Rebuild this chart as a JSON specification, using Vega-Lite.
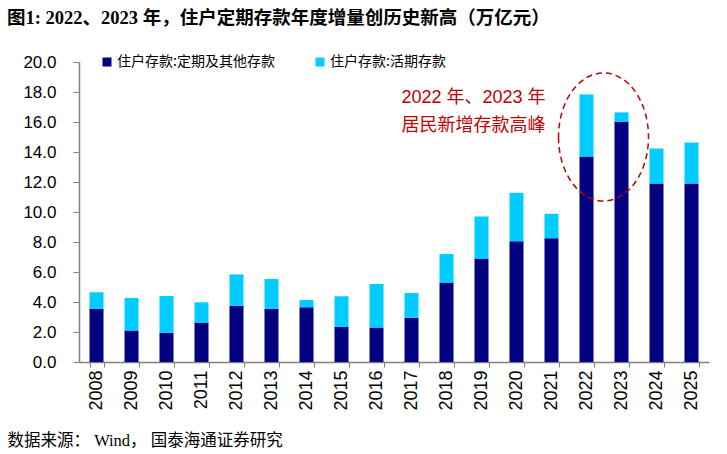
{
  "$schema": "https://vega.github.io/schema/vega-lite/v6.json",
  "width": 630,
  "height": 300,
  "autosize": {"type": "none"},
  "padding": {"left": 79, "top": 62, "right": 18, "bottom": 92},
  "background": "white",
  "title": {
    "text": "图1:  2022、2023 年，住户定期存款年度增量创历史新高（万亿元）",
    "anchor": "start",
    "frame": "group",
    "dx": -72,
    "offset": 26,
    "font": "Liberation Serif, Noto Sans CJK SC",
    "fontSize": 18.5,
    "fontWeight": "bold",
    "color": "#000000"
  },
  "config": {
    "view": {"stroke": null},
    "axis": {"grid": false}
  },
  "layer": [
    {
      "data": {
        "values": [
          {"year": "2008", "type": "住户存款:定期及其他存款", "value": 3.55},
          {"year": "2008", "type": "住户存款:活期存款", "value": 1.1},
          {"year": "2009", "type": "住户存款:定期及其他存款", "value": 2.1},
          {"year": "2009", "type": "住户存款:活期存款", "value": 2.17},
          {"year": "2010", "type": "住户存款:定期及其他存款", "value": 1.95},
          {"year": "2010", "type": "住户存款:活期存款", "value": 2.45},
          {"year": "2011", "type": "住户存款:定期及其他存款", "value": 2.63},
          {"year": "2011", "type": "住户存款:活期存款", "value": 1.35},
          {"year": "2012", "type": "住户存款:定期及其他存款", "value": 3.75},
          {"year": "2012", "type": "住户存款:活期存款", "value": 2.09},
          {"year": "2013", "type": "住户存款:定期及其他存款", "value": 3.55},
          {"year": "2013", "type": "住户存款:活期存款", "value": 1.98},
          {"year": "2014", "type": "住户存款:定期及其他存款", "value": 3.65},
          {"year": "2014", "type": "住户存款:活期存款", "value": 0.48},
          {"year": "2015", "type": "住户存款:定期及其他存款", "value": 2.35},
          {"year": "2015", "type": "住户存款:活期存款", "value": 2.03},
          {"year": "2016", "type": "住户存款:定期及其他存款", "value": 2.3},
          {"year": "2016", "type": "住户存款:活期存款", "value": 2.9},
          {"year": "2017", "type": "住户存款:定期及其他存款", "value": 2.95},
          {"year": "2017", "type": "住户存款:活期存款", "value": 1.65},
          {"year": "2018", "type": "住户存款:定期及其他存款", "value": 5.3},
          {"year": "2018", "type": "住户存款:活期存款", "value": 1.9},
          {"year": "2019", "type": "住户存款:定期及其他存款", "value": 6.9},
          {"year": "2019", "type": "住户存款:活期存款", "value": 2.8},
          {"year": "2020", "type": "住户存款:定期及其他存款", "value": 8.05},
          {"year": "2020", "type": "住户存款:活期存款", "value": 3.23},
          {"year": "2021", "type": "住户存款:定期及其他存款", "value": 8.25},
          {"year": "2021", "type": "住户存款:活期存款", "value": 1.63},
          {"year": "2022", "type": "住户存款:定期及其他存款", "value": 13.7},
          {"year": "2022", "type": "住户存款:活期存款", "value": 4.14},
          {"year": "2023", "type": "住户存款:定期及其他存款", "value": 16.0},
          {"year": "2023", "type": "住户存款:活期存款", "value": 0.64},
          {"year": "2024", "type": "住户存款:定期及其他存款", "value": 11.9},
          {"year": "2024", "type": "住户存款:活期存款", "value": 2.33},
          {"year": "2025", "type": "住户存款:定期及其他存款", "value": 11.9},
          {"year": "2025", "type": "住户存款:活期存款", "value": 2.73}
        ]
      },
      "mark": {"type": "bar"},
      "encoding": {
        "x": {
          "field": "year",
          "type": "ordinal",
          "scale": {
            "domain": ["2008","2009","2010","2011","2012","2013","2014","2015","2016","2017","2018","2019","2020","2021","2022","2023","2024","2025"],
            "paddingInner": 0.6,
            "paddingOuter": 0.3
          },
          "axis": {
            "title": "数据来源： Wind， 国泰海通证券研究",
            "titleFont": "Liberation Serif, Noto Sans CJK SC",
            "titleFontSize": 16.5,
            "titleFontWeight": "normal",
            "titleColor": "#000000",
            "titleAnchor": null,
            "titleAlign": "left",
            "titleBaseline": "middle",
            "titleX": -72,
            "titleY": 78,
            "labelAngle": -90,
            "labelFont": "Liberation Sans",
            "labelFontSize": 18,
            "labelColor": "#000000",
            "labelPadding": 3,
            "labelOverlap": false,
            "tickBand": "extent",
            "tickSize": 5,
            "tickColor": "#808080",
            "domainColor": "#808080",
            "domainWidth": 1.5
          }
        },
        "y": {
          "field": "value",
          "type": "quantitative",
          "stack": "zero",
          "scale": {"domain": [0, 20], "nice": false},
          "axis": {
            "title": null,
            "values": [0,2,4,6,8,10,12,14,16,18,20],
            "format": ".1f",
            "labelFont": "Liberation Sans",
            "labelFontSize": 17,
            "labelColor": "#000000",
            "labelPadding": 17,
            "labelOverlap": false,
            "labelBound": false,
            "labelFlush": false,
            "tickSize": 6,
            "tickColor": "#808080",
            "domainColor": "#808080",
            "domainWidth": 1.5
          }
        },
        "color": {
          "field": "type",
          "type": "nominal",
          "scale": {
            "domain": ["住户存款:定期及其他存款", "住户存款:活期存款"],
            "range": ["#000080", "#00CCFF"]
          },
          "legend": {
            "title": null,
            "orient": "none",
            "direction": "horizontal",
            "legendX": 21,
            "legendY": -7,
            "symbolType": "square",
            "symbolSize": 81,
            "symbolStrokeWidth": 0,
            "labelFont": "Noto Sans CJK SC",
            "labelFontSize": 14,
            "labelColor": "#000000",
            "labelOffset": 3,
            "labelLimit": 0,
            "columnPadding": 38,
            "padding": 0
          }
        },
        "order": {"field": "type", "sort": "ascending"}
      }
    },
    {
      "data": {
        "values": [
          {"year": "2019", "value": 17.62, "label": "2022 年、2023 年"},
          {"year": "2019", "value": 15.75, "label": "居民新增存款高峰"}
        ]
      },
      "mark": {
        "type": "text",
        "dx": -8,
        "font": "Liberation Sans, Noto Sans CJK SC",
        "fontSize": 18,
        "color": "#C00000",
        "align": "center",
        "baseline": "middle"
      },
      "encoding": {
        "x": {"field": "year", "type": "ordinal"},
        "y": {
          "field": "value",
          "type": "quantitative",
          "axis": {
            "title": null,
            "values": [0,2,4,6,8,10,12,14,16,18,20],
            "format": ".1f",
            "labelFont": "Liberation Sans",
            "labelFontSize": 17,
            "labelColor": "#000000",
            "labelPadding": 17,
            "labelOverlap": false,
            "labelBound": false,
            "labelFlush": false,
            "tickSize": 6,
            "tickColor": "#808080",
            "domainColor": "#808080",
            "domainWidth": 1.5
          }
        },
        "text": {"field": "label"}
      }
    },
    {
      "data": {"values": [{"year": "2022", "value": 15.0}]},
      "mark": {
        "type": "point",
        "shape": "M -0.703 0 A 0.703 1 0 1 0 0.703 0 A 0.703 1 0 1 0 -0.703 0 Z",
        "size": 16384,
        "filled": false,
        "fill": null,
        "stroke": "#C00000",
        "strokeWidth": 1.5,
        "strokeDash": [6, 4],
        "opacity": 1,
        "xOffset": 17
      },
      "encoding": {
        "x": {"field": "year", "type": "ordinal"},
        "y": {
          "field": "value",
          "type": "quantitative",
          "axis": {
            "title": null,
            "values": [0,2,4,6,8,10,12,14,16,18,20],
            "format": ".1f",
            "labelFont": "Liberation Sans",
            "labelFontSize": 17,
            "labelColor": "#000000",
            "labelPadding": 17,
            "labelOverlap": false,
            "labelBound": false,
            "labelFlush": false,
            "tickSize": 6,
            "tickColor": "#808080",
            "domainColor": "#808080",
            "domainWidth": 1.5
          }
        }
      }
    }
  ]
}
